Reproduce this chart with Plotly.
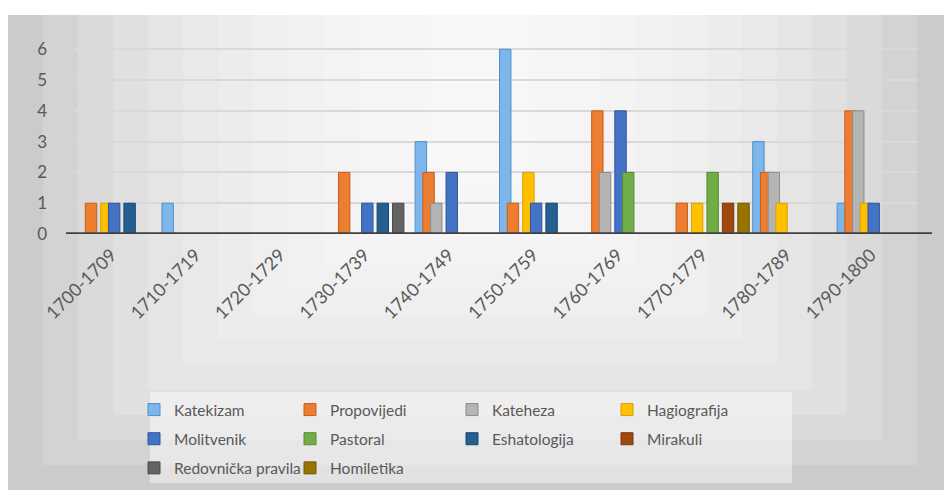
import plotly.graph_objects as go

categories = ["1700-1709", "1710-1719", "1720-1729", "1730-1739", "1740-1749",
              "1750-1759", "1760-1769", "1770-1779", "1780-1789", "1790-1800"]

katekizam = [0, 1, 0, 0, 3, 6, 0, 0, 3, 1]
propovijedi = [1, 0, 0, 2, 2, 1, 4, 1, 2, 4]
kateheza = [0, 0, 0, 0, 1, 0, 2, 0, 2, 4]
hagiografija = [1, 0, 0, 0, 0, 2, 0, 1, 1, 1]
molitvenik = [1, 0, 0, 1, 2, 1, 4, 0, 0, 1]
pastoral = [0, 0, 0, 0, 0, 0, 2, 2, 0, 0]
eshatologija = [1, 0, 0, 1, 0, 1, 0, 0, 0, 0]
mirakuli = [0, 0, 0, 0, 0, 0, 0, 1, 0, 0]
redovnicka_pravila = [0, 0, 0, 1, 0, 0, 0, 0, 0, 0]
homiletika = [0, 0, 0, 0, 0, 0, 0, 1, 0, 0]

# name, values, fill, outline, legend column
series = [
    ("Katekizam", katekizam, "#7DB6EA", "#4F8FCB", "legend"),
    ("Propovijedi", propovijedi, "#ED7D31", "#C55E1A", "legend2"),
    ("Kateheza", kateheza, "#B4B4B4", "#8C8C8C", "legend3"),
    ("Hagiografija", hagiografija, "#FFC000", "#D9A000", "legend4"),
    ("Molitvenik", molitvenik, "#4472C4", "#2F559C", "legend"),
    ("Pastoral", pastoral, "#70AD47", "#548A33", "legend2"),
    ("Eshatologija", eshatologija, "#255E91", "#1A4670", "legend3"),
    ("Mirakuli", mirakuli, "#9E480E", "#7A370A", "legend4"),
    ("Redovnička pravila", redovnicka_pravila, "#636363", "#4A4A4A", "legend"),
    ("Homiletika", homiletika, "#997300", "#745700", "legend2"),
]

# page is offset by the 8px default body margin
OFF = 8
W, H = 952 - OFF, 490 - OFF
L, R, T, B = 74 - OFF, 34, 40 - OFF, 256
PW, PH = W - L - R, H - T - B


def px(x):
    return (x - OFF - L) / PW


def py(y):
    return (H - B - (y - OFF)) / PH


n = len(series)
slot = 0.0915
bar_w = 0.135
fig = go.Figure()
for i, (name, vals, col, line, leg) in enumerate(series):
    fig.add_trace(go.Bar(
        x=categories, y=vals, name=name,
        offset=-slot * n / 2 + i * slot,
        width=bar_w,
        legend=leg, legendgroup=name,
        marker=dict(color=col, line=dict(color=line, width=1)),
    ))

shapes = []
shapes.append(dict(type="rect", xref="paper", yref="paper",
                   x0=px(8), x1=px(952), y0=py(490), y1=py(15),
                   fillcolor="#CBCBCB", line=dict(width=0), layer="below"))
steps = 12
for i in range(1, steps + 1):
    f = i / steps
    x0 = 8 + f * 420
    x1 = 952 - f * 420
    y1 = 490 - f * 300
    shapes.append(dict(type="rect", xref="paper", yref="paper",
                       x0=px(x0), x1=px(x1), y0=py(y1), y1=py(15),
                       fillcolor="rgba(255,255,255,0.17)", line=dict(width=0),
                       layer="below"))
# legend box
shapes.append(dict(type="rect", xref="paper", yref="paper",
                   x0=px(150), x1=px(792), y0=py(483), y1=py(392),
                   fillcolor="rgba(255,255,255,0.45)", line=dict(width=0),
                   layer="below"))
shapes.append(dict(type="line", xref="paper", yref="y",
                   x0=px(66), x1=px(932), y0=0, y1=0,
                   line=dict(color="#404040", width=3.5)))

legend_font = dict(size=15.5, color="#595959")


def legend_at(xpix):
    return dict(
        orientation="v",
        x=px(xpix), y=py(393), xanchor="left", yanchor="top",
        bgcolor="rgba(0,0,0,0)",
        font=legend_font,
        itemwidth=30,
        traceorder="grouped",
        tracegroupgap=6,
        itemclick=False, itemdoubleclick=False,
    )


fig.update_layout(
    width=W, height=H,
    margin=dict(l=L, r=R, t=T, b=B, autoexpand=False),
    paper_bgcolor="white",
    plot_bgcolor="rgba(0,0,0,0)",
    barmode="overlay",
    shapes=shapes,
    font=dict(family="Lato, Open Sans, sans-serif", color="#595959", size=16),
    showlegend=True,
    legend=legend_at(134),
    legend2=legend_at(290),
    legend3=legend_at(452),
    legend4=legend_at(607),
    xaxis=dict(
        tickangle=-45,
        showgrid=False,
        showline=False,
        ticks="",
        ticklabelstandoff=6,
        ticklabelshift=-5,
        tickfont=dict(size=18, color="#595959"),
        fixedrange=True,
    ),
    yaxis=dict(
        range=[0, 6.3],
        tickvals=[0, 1, 2, 3, 4, 5, 6],
        showgrid=True,
        gridcolor="#D9D9D9",
        gridwidth=1.5,
        zeroline=False,
        showline=False,
        ticks="",
        ticklabelstandoff=26,
        tickfont=dict(size=17, color="#595959"),
        fixedrange=True,
    ),
)

fig.write_html("out.html")
